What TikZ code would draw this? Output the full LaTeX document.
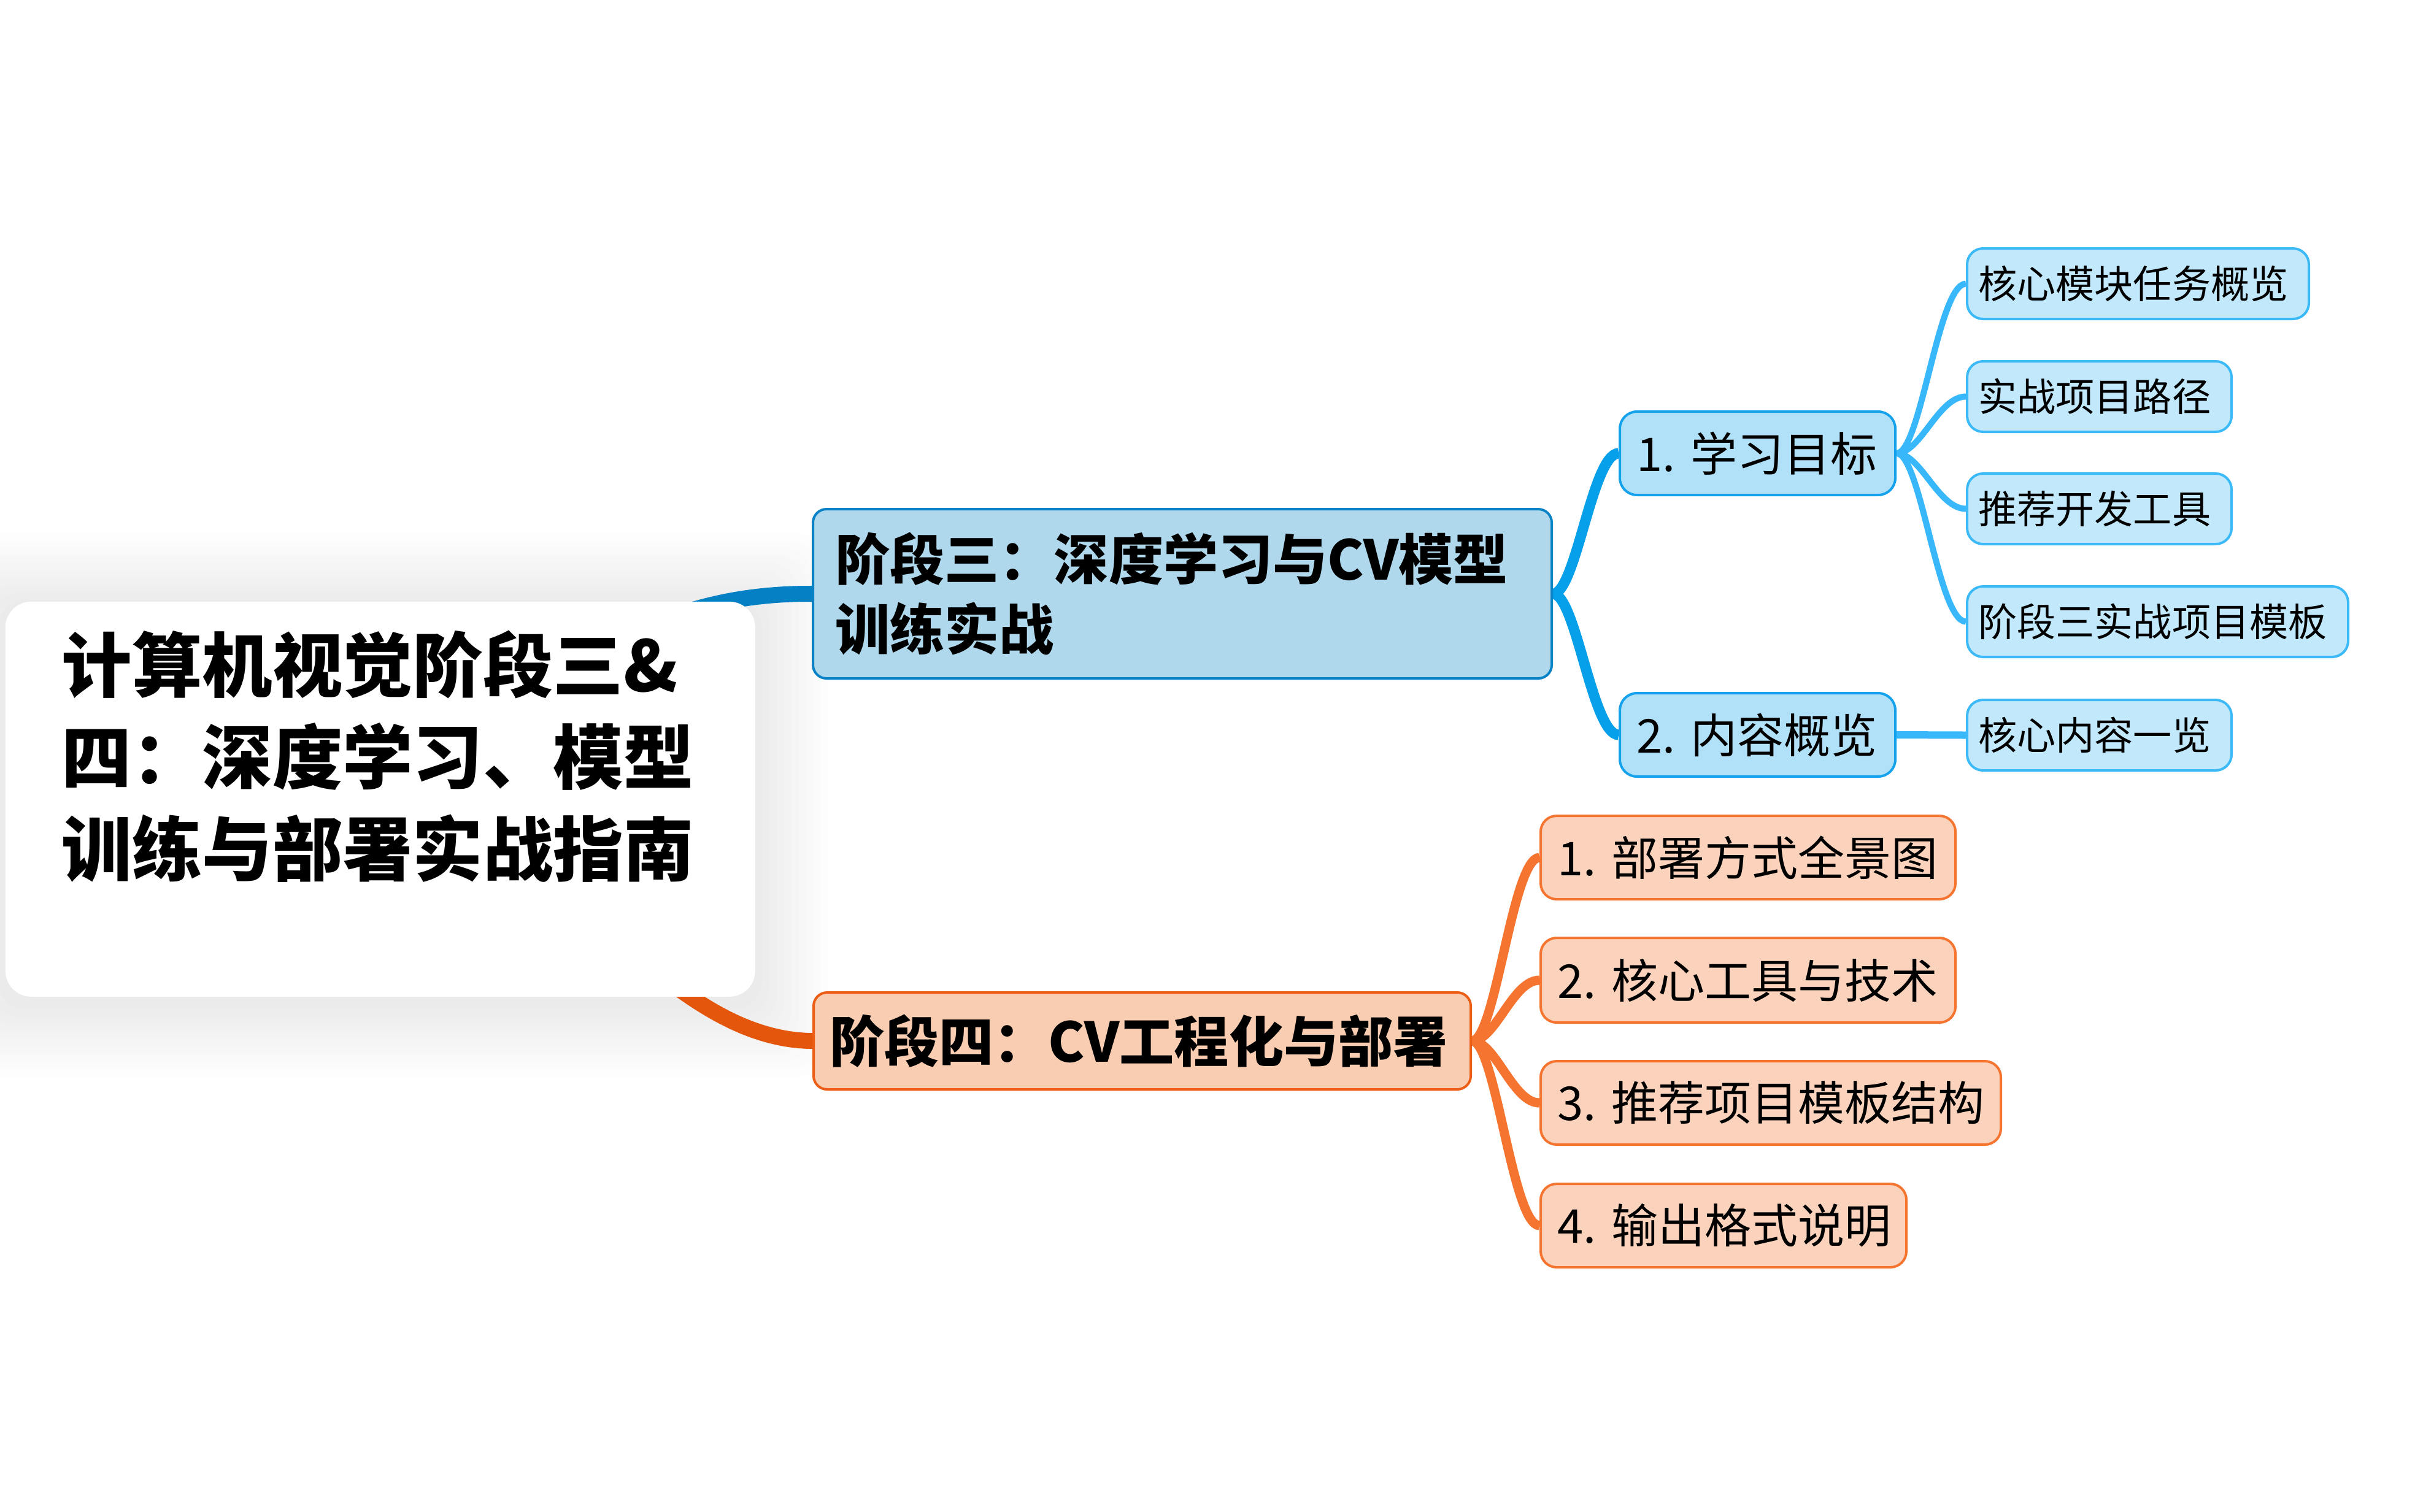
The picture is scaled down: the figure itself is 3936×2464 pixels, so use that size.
\documentclass[tikz,border=0pt]{standalone}
\usepackage{fontspec}
\setmainfont{Noto Sans CJK SC}
\usetikzlibrary{calc}
\pgfdeclarelayer{shadow}
\pgfdeclarelayer{links}
\pgfsetlayers{shadow,links,main}
\definecolor{sThreeFill}{HTML}{AFD8EC}
\definecolor{sThreeLine}{HTML}{0A82C6}
\definecolor{sFourFill}{HTML}{F8CDB2}
\definecolor{sFourLine}{HTML}{EC5E16}
\definecolor{bTwoFill}{HTML}{B1E1F8}
\definecolor{bTwoLine}{HTML}{14A2EC}
\definecolor{leafFill}{HTML}{C2E8FC}
\definecolor{leafLine}{HTML}{3CBAF8}
\definecolor{oTwoFill}{HTML}{FBD3BD}
\definecolor{oTwoLine}{HTML}{F47430}
\definecolor{linkA}{HTML}{0480C4}
\definecolor{linkB}{HTML}{06A0EA}
\definecolor{linkC}{HTML}{38B8FA}
\definecolor{linkD}{HTML}{E4560C}
\definecolor{linkE}{HTML}{F47430}
\tikzset{
  tbox/.style={draw, line width=1pt, anchor=north west, inner ysep=0pt, align=left, text=black},
  rootboxst/.style={fill=white, rounded corners=10.5pt, anchor=north west, inner sep=0pt},
  roottext/.style={anchor=west, inner sep=0pt, align=left, font=\bfseries\fontsize{28.6}{37.5}\selectfont},
  stagebox/.style={tbox, rounded corners=5.5pt, font=\bfseries\fontsize{22.3}{28.5}\selectfont},
  midblue/.style={tbox, rounded corners=7pt, inner xsep=6.75pt, fill=bTwoFill, draw=bTwoLine,
    text width=98.75pt, minimum height=34pt, font=\fontsize{19}{23}\selectfont},
  midorange/.style={tbox, rounded corners=6.5pt, inner xsep=6.75pt, fill=oTwoFill, draw=oTwoLine,
    minimum height=34pt, font=\fontsize{19}{23}\selectfont},
  leafbox/.style={tbox, rounded corners=6.5pt, inner xsep=4.5pt, fill=leafFill, draw=leafLine,
    minimum height=28.75pt, font=\fontsize{15.8}{19}\selectfont},
  fan/.style={to path={let \p1=(\tikztostart), \p2=(\tikztotarget) in
    .. controls (\x1+0.35*\x2-0.35*\x1, \y1) and (\x1+0.6*\x2-0.6*\x1, \y2) .. (\tikztotarget)}},
  mainlink/.style={line width=6.5pt},
  stagelink/.style={line width=4.25pt},
  leaflink/.style={line width=2.5pt},
}
\begin{document}
\begin{tikzpicture}[x=0.25pt, y=-0.25pt]
\useasboundingbox (0,0) rectangle (3936,2464);
% nodes
\node[rootboxst, minimum width=305.5pt, minimum height=161pt] (rootbox) at (8,980) {};
\node[roottext] (root) at (100,1233) {计算机视觉阶段三\&\\四：深度学习、模型\\训练与部署实战指南};
\node[stagebox, fill=sThreeFill, draw=sThreeLine, inner xsep=9pt, text width=283pt, minimum height=69pt] (s3) at (1323,828) {阶段三：深度学习与CV模型\\训练实战};
\node[stagebox, fill=sFourFill, draw=sFourLine, inner xsep=6.5pt, text width=254.75pt, minimum height=39.5pt] (s4) at (1324,1616) {阶段四：CV工程化与部署};
\node[midblue] (l1) at (2638,669) {1.~学习目标};
\node[midblue] (l2) at (2638,1128) {2.~内容概览};
\node[leafbox, text width=130.25pt] (k1) at (3204,403) {核心模块任务概览};
\node[leafbox, text width=98.75pt] (k2) at (3204,587) {实战项目路径};
\node[leafbox, text width=98.75pt] (k3) at (3204,770) {推荐开发工具};
\node[leafbox, text width=146.25pt] (k4) at (3204,954) {阶段三实战项目模板};
\node[leafbox, text width=98.75pt] (k5) at (3204,1139) {核心内容一览};
\node[midorange, text width=155.5pt] (o1) at (2509,1328) {1.~部署方式全景图};
\node[midorange, text width=155.5pt, minimum height=34.5pt] (o2) at (2509,1527) {2.~核心工具与技术};
\node[midorange, text width=174pt] (o3) at (2509,1728) {3.~推荐项目模板结构};
\node[midorange, text width=135.5pt] (o4) at (2509,1928) {4.~输出格式说明};
% shadow of root
\begin{pgfonlayer}{shadow}
\fill[white] (0,0) rectangle (3936,2464);
\foreach \d in {12,24,...,120}
  \fill[black, opacity=0.006, rounded corners=12pt] (8-\d,980-\d+10) rectangle (1230+\d,1624+\d+10);
\end{pgfonlayer}
% connectors
\begin{pgfonlayer}{links}
\draw[linkA, mainlink] (rootbox.center) .. controls (800,1302) and (900,966) .. (s3.west);
\draw[linkD, mainlink] (rootbox.center) .. controls (880,1302) and (1060,1695) .. (s4.west);
\draw[linkB, stagelink] (s3.east) to[fan] (l1.west);
\draw[linkB, stagelink] (s3.east) to[fan] (l2.west);
\draw[linkC, leaflink] (l1.east) to[fan] (k1.west);
\draw[linkC, leaflink] (l1.east) to[fan] (k2.west);
\draw[linkC, leaflink] (l1.east) to[fan] (k3.west);
\draw[linkC, leaflink] (l1.east) to[fan] (k4.west);
\draw[linkC, line width=3pt] (l2.east) -- (k5.west);
\draw[linkE, line width=3.75pt] (s4.east) to[fan] (o1.west);
\draw[linkE, line width=3.75pt] (s4.east) to[fan] (o2.west);
\draw[linkE, line width=3.75pt] (s4.east) to[fan] (o3.west);
\draw[linkE, line width=3.75pt] (s4.east) to[fan] (o4.west);
\end{pgfonlayer}
\end{tikzpicture}
\end{document}
